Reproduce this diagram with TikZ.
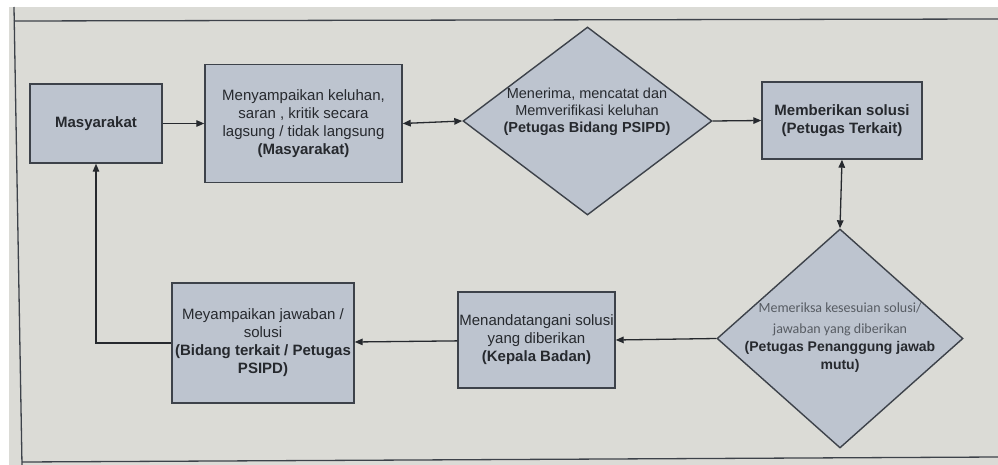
\documentclass[tikz,border=0pt]{standalone}
\usepackage{fontspec}
\setmainfont{Liberation Sans}
\newfontfamily\calibri{Carlito}
\usepackage{tikz}
\usetikzlibrary{shapes.geometric}
\usetikzlibrary{arrows.meta}
\usetikzlibrary{positioning}
\definecolor{flowBody}{rgb}{0.74,0.77,0.81}
\definecolor{flowBorder}{rgb}{0.24,0.26,0.29}
\definecolor{paper}{rgb}{0.86,0.86,0.84}
\definecolor{ink}{rgb}{0.15,0.16,0.18}
\definecolor{softInk}{rgb}{0.34,0.36,0.39}
\tikzset{FLOW/.style={fill=flowBody, draw=flowBorder, line width=1.4pt, inner sep=0pt}}
\tikzset{BOX/.style={FLOW, rectangle}}
\tikzset{CHECK/.style={FLOW, diamond}}
\tikzset{LINK/.style={draw=ink, line width=1.3pt, -{Triangle[length=8pt,width=6.5pt]}}}
\tikzset{BOTH/.style={LINK, {Triangle[length=8pt,width=6.5pt]}-{Triangle[length=8pt,width=6.5pt]}}}
\begin{document}
\begin{tikzpicture}[x=1pt, y=-1pt,
            every node/.style={align=center, text=ink, font=\fontsize{15}{18}\selectfont}
        ]
            \useasboundingbox (0,0) rectangle (998,465);
            \fill[paper] (9,7) rectangle (998,465);
            \draw[flowBorder, line width=1.3pt] (14,21) -- (998,19);
            \draw[flowBorder, line width=1.3pt] (14,7) -- (22,465);
            \draw[flowBorder, line width=1.3pt] (22,462) -- (998,457);

            \node [BOX, minimum width=132pt, minimum height=79pt] (masy) at (96,123.5) {\textbf{Masyarakat}};
            \node [BOX, minimum width=197pt, minimum height=118pt] (keluhan) at (303.5,123.5)
                {Menyampaikan keluhan,\\ saran , kritik secara\\ lagsung / tidak langsung\\ \textbf{(Masyarakat)}};
            \node [CHECK, minimum width=249pt, minimum height=188pt] (terima) at (587.5,121) {};
            \node [font=\fontsize{14.5}{17}\selectfont] (terimaT) at (587,112)
                {Menerima, mencatat dan\\ Memverifikasi keluhan\\ \textbf{(Petugas Bidang PSIPD)}};
            \node [BOX, minimum width=160pt, minimum height=77pt] (solusi) at (842,120.5)
                {\textbf{Memberikan solusi}\\ \textbf{(Petugas Terkait)}};
            \node [CHECK, minimum width=246pt, minimum height=219pt] (periksa) at (840,338.5) {};
            \node [font=\fontsize{14}{18}\selectfont] (periksaT) at (840,338)
                {\calibri\textcolor{softInk}{Memeriksa kesesuian solusi/}\\[3pt] \calibri\textcolor{softInk}{jawaban yang diberikan}\\ \textbf{(Petugas Penanggung jawab}\\ \textbf{mutu)}};
            \node [BOX, minimum width=157pt, minimum height=96pt] (tanda) at (536.5,340)
                {Menandatangani solusi\\ yang diberikan\\ \textbf{(Kepala Badan)}};
            \node [BOX, minimum width=182pt, minimum height=120pt] (jawab) at (263,343)
                {Meyampaikan jawaban /\\ solusi\\ \textbf{(Bidang terkait / Petugas}\\ \textbf{PSIPD)}};

            \path [LINK] (masy) -- (keluhan);
            \path [BOTH] (keluhan.east) -- (terima.west);
            \path [LINK] (terima.east) -- (solusi.west);
            \path [BOTH] (solusi.south) -- (periksa.north);
            \path [LINK] (periksa.west) -- (tanda.east);
            \path [LINK] (tanda) -- (jawab);
            \path [LINK] (jawab.west) -| (masy.south);
        \end{tikzpicture}
\end{document}
